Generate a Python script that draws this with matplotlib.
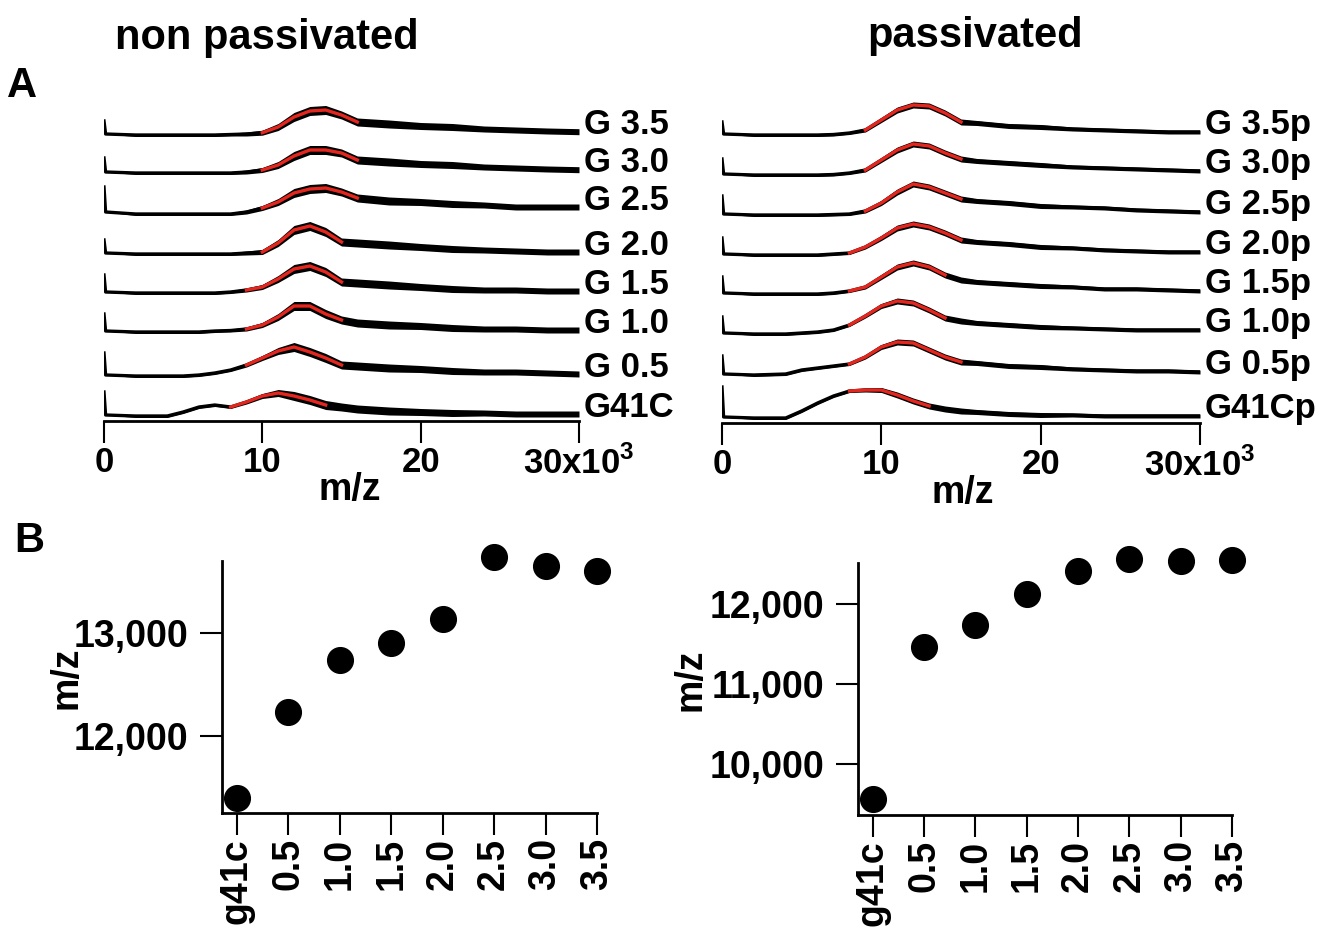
import numpy as np
import matplotlib
matplotlib.use('Agg')
import matplotlib.pyplot as plt
from matplotlib.ticker import FuncFormatter

plt.rcParams['font.family'] = ['Liberation Sans', 'DejaVu Sans']
plt.rcParams['font.weight'] = 'bold'
plt.rcParams['mathtext.fontset'] = 'custom'
plt.rcParams['mathtext.rm'] = 'Liberation Sans:bold'
plt.rcParams['mathtext.bf'] = 'Liberation Sans:bold'

# m/z grid (x10^3) the spectra were read on
MZ = [0, 0.1, 2, 4, 5, 6, 7, 8, 9, 10, 11, 12, 13, 14, 15, 16, 18, 20, 22, 24, 26, 28, 30]

# non passivated spectra (intensity, arbitrary units), top to bottom
NP_LABELS = ['G 3.5', 'G 3.0', 'G 2.5', 'G 2.0', 'G 1.5', 'G 1.0', 'G 0.5', 'G41C']
NP_TRACES = [
    [14, 1, 0, 0, 0, 0, 0, 0.5, 1, 2.3, 8, 18, 24, 25, 20, 13, 11, 9, 8, 6, 5, 4, 3.3],
    [15, 1, 0, 0, 0, 0, 0, 0, 1, 3, 8, 17, 23, 23, 20, 13, 11, 9, 8, 6, 5, 4, 3.3],
    [27, 2, 0, 0, 0, 0, 0, 0, 2, 6, 12, 21, 25, 26, 22, 16, 13, 12, 10, 9, 7, 7, 7],
    [14, 1, 0, 0, 0, 0, 0, 0, 1, 2, 11, 24, 28, 22, 12, 11, 9, 7, 5, 4, 3, 2, 2],
    [18, 1, 0, 0, 0, 0, 0, 1, 3, 6, 14, 24, 27, 21, 11, 10, 8, 6, 4, 3, 3, 2, 2],
    [18, 1, 0, 0, 0, 0, 1, 1.5, 3, 7, 15, 26, 26, 18, 12, 9, 7, 6, 4, 3, 3, 2, 2],
    [23, 1, 0, 0, 0, 1, 3, 6, 11, 18, 25, 29, 24, 18, 11, 10, 8, 7, 5, 4, 4, 3, 2],
    [24, 1, 0, 0, 4, 9, 11, 9, 14, 20, 23, 20, 16, 11, 9, 7, 5, 4, 3, 3, 2, 2, 2],
]
NP_FIT = [(10, 16), (10, 16), (10, 16), (10, 15), (9, 15), (9, 15), (9, 15), (8, 14)]
NP_NOISE = [0, 0, 1.5, 1.5, 1.5, 1.5, 1.5, 1.5, 2, 2.5, 3.5, 4.5, 4.5, 4.5, 4, 4, 4, 3.5, 3.5, 3, 3, 3, 3]

# passivated spectra
P_LABELS = ['G 3.5p', 'G 3.0p', 'G 2.5p', 'G 2.0p', 'G 1.5p', 'G 1.0p', 'G 0.5p', 'G41Cp']
P_TRACES = [
    [13, 1, 0, 0, 0, 0, 0.5, 2, 5, 15, 25, 30, 29, 22, 13, 12, 9, 8, 6, 5, 4, 3, 3],
    [16, 1, 0, 0, 0, 0, 0.5, 2, 5, 15, 25, 31, 29, 22, 16, 14, 12, 10, 8, 7, 6, 5, 4],
    [19, 1, 0, 0, 0, 0, 0.5, 1, 4, 12, 23, 31, 28, 22, 16, 14, 12, 9, 8, 7, 5, 4, 3],
    [17, 1, 0, 0, 0, 0, 1, 2, 8, 17, 27, 31, 28, 22, 15, 13, 11, 8, 7, 5, 4, 3, 3],
    [17, 1, 0, 0, 0, 0, 1, 3, 7, 17, 27, 31, 27, 19, 14, 12, 10, 8, 7, 5, 5, 4, 3],
    [17, 1, 0, 0, 1, 2, 4, 9, 18, 28, 33, 31, 24, 16, 13, 11, 9, 7, 6, 5, 4, 4, 4],
    [19, 1, 0, 1, 5, 7, 9, 11, 18, 28, 33, 32, 25, 18, 13, 12, 9, 8, 6, 5, 4, 4, 3],
    [31, 1, 0, 0, 7, 15, 22, 27, 28, 28, 23, 17, 12, 9, 7, 6, 4, 3, 3, 2, 2, 2, 2],
]
P_FIT = [(9, 15), (9, 15), (9, 15), (8, 15), (8, 14), (8, 14), (8, 15), (8, 13)]
P_NOISE = [0, 0, 1.5, 1.5, 1.5, 1.5, 1.5, 1.5, 2, 2.5, 3, 3, 3, 3, 3, 2.5, 2.5, 2.5, 2, 2, 2, 2, 2]

# panel B: peak position vs sample
B_LABELS = ['g41c', '0.5', '1.0', '1.5', '2.0', '2.5', '3.0', '3.5']
NP_PEAK = [11400, 12235, 12740, 12905, 13135, 13740, 13650, 13600]
P_PEAK = [9560, 11460, 11740, 12125, 12410, 12560, 12540, 12550]

# layout (pixels of the 1321x931 canvas)
W, H = 1321, 931
NP_OFFSETS = [286, 248, 207, 167, 128, 89, 45, 5]
P_OFFSETS = [288, 248, 208, 168, 129, 89, 48, 5]
RED = '#e3261e'


def px_axes(fig, left, top, right, bottom):
    return fig.add_axes([left / W, 1 - bottom / H, (right - left) / W, (bottom - top) / H])


def draw_stack(ax, traces, labels, fits, noise, offsets, height):
    mz = np.array(MZ, dtype=float)
    w = np.array(noise)
    for tr, lab, (lo, hi), off in zip(traces, labels, fits, offsets):
        y = np.array(tr, dtype=float) + off
        ax.fill_between(mz, y - w, y + w, color='black', lw=0)
        ax.plot(mz, y, color='black', lw=2.4, solid_joinstyle='round')
        m = (mz >= lo) & (mz <= hi)
        ax.plot(mz[m], y[m], color=RED, lw=2.4, solid_joinstyle='round')
        ax.text(30.3, y[-1] + 7, lab, ha='left', va='center', fontsize=25,
                fontweight='bold', clip_on=False)
    ax.set_xlim(0, 30)
    ax.set_ylim(0, height)
    for s in ['top', 'right', 'left']:
        ax.spines[s].set_visible(False)
    ax.spines['bottom'].set_linewidth(2)
    ax.set_yticks([])
    ax.set_xticks([0, 10, 20, 30])
    ax.set_xticklabels(['0', '10', '20', r'30x10$^{3}$'])
    ax.tick_params(axis='x', direction='out', length=16, width=1.5, pad=2, labelsize=25)


def draw_peaks(ax, values, ylim, yticks):
    x = np.arange(len(values))
    ax.plot(x, values, 'o', color='black', markersize=18.5, clip_on=False)
    ax.set_xlim(-0.29, len(values) - 1)
    ax.set_ylim(*ylim)
    ax.set_xticks(x)
    ax.set_xticklabels(B_LABELS, rotation=90, fontsize=27)
    ax.set_yticks(yticks)
    ax.yaxis.set_major_formatter(FuncFormatter(lambda v, p: f'{int(v):,}'))
    for s in ['top', 'right']:
        ax.spines[s].set_visible(False)
    for s in ['left', 'bottom']:
        ax.spines[s].set_linewidth(2)
    ax.tick_params(axis='both', direction='out', length=16, width=1.5, labelsize=27)
    ax.tick_params(axis='x', pad=2)
    ax.tick_params(axis='y', pad=8)


fig = plt.figure(figsize=(W / 100, H / 100), dpi=100)

ax1 = px_axes(fig, 104, 95, 579, 421)
draw_stack(ax1, NP_TRACES, NP_LABELS, NP_FIT, NP_NOISE, NP_OFFSETS, 326)
ax2 = px_axes(fig, 722, 95, 1200, 423)
draw_stack(ax2, P_TRACES, P_LABELS, P_FIT, P_NOISE, P_OFFSETS, 328)

ax3 = px_axes(fig, 222, 561, 597, 813)
draw_peaks(ax3, NP_PEAK, (11252, 13699), [12000, 13000])
ax4 = px_axes(fig, 858, 563, 1232, 815)
draw_peaks(ax4, P_PEAK, (9362, 12512), [10000, 11000, 12000])

fig.text(267 / W, 1 - 38 / H, 'non passivated', ha='center', va='center', fontsize=30)
fig.text(975 / W, 1 - 36 / H, 'passivated', ha='center', va='center', fontsize=30)
fig.text(22 / W, 1 - 86 / H, 'A', ha='center', va='center', fontsize=30)
fig.text(29 / W, 1 - 541 / H, 'B', ha='center', va='center', fontsize=30)
fig.text(350 / W, 1 - 490 / H, 'm/z', ha='center', va='center', fontsize=27)
fig.text(963 / W, 1 - 493 / H, 'm/z', ha='center', va='center', fontsize=27)
fig.text(67 / W, 1 - 678 / H, 'm/z', ha='center', va='center', fontsize=27, rotation=90)
fig.text(690 / W, 1 - 680 / H, 'm/z', ha='center', va='center', fontsize=27, rotation=90)

fig.savefig('out.png', dpi=100, facecolor='white')
